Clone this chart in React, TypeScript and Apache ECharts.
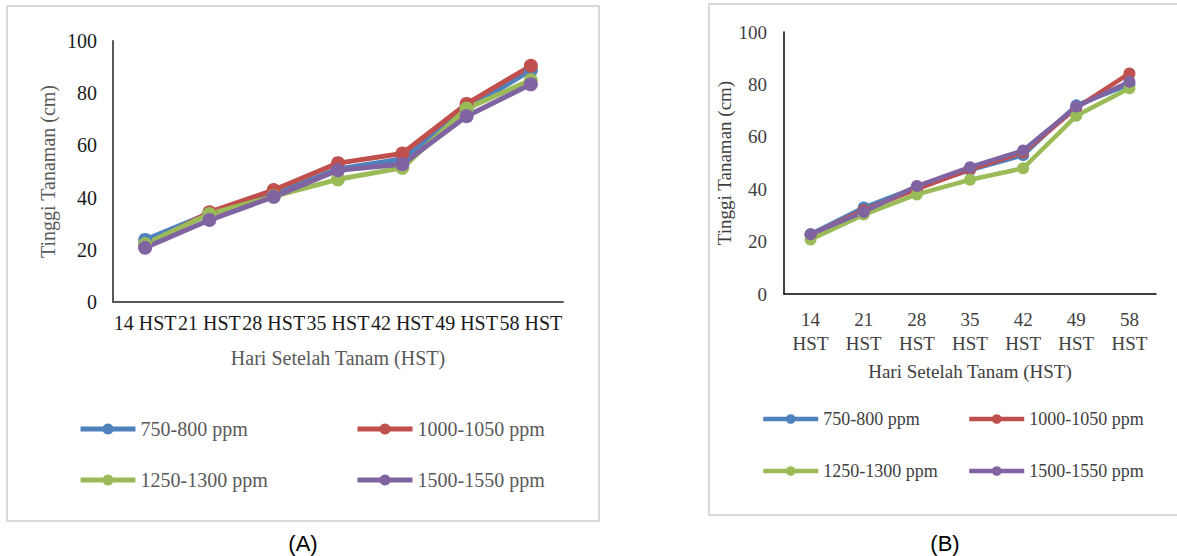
import React, { useEffect, useRef } from "react";
import * as echarts from "echarts";

const categoriesA = ["14 HST", "21 HST", "28 HST", "35 HST", "42 HST", "49 HST", "58 HST"];
const categoriesB = ["14\nHST", "21\nHST", "28\nHST", "35\nHST", "42\nHST", "49\nHST", "58\nHST"];
const seriesNames = ["750-800 ppm", "1000-1050 ppm", "1250-1300 ppm", "1500-1550 ppm"];
const colors = ["#4F81BD", "#C0504D", "#9BBB59", "#8064A2"];

const a750 = [23.8, 34, 41.2, 51, 54.8, 73.9, 88.8];
const a1000 = [21.5, 34.4, 42.9, 53.2, 56.9, 75.9, 90.5];
const a1250 = [22.2, 33.7, 40.5, 47, 51.4, 74.1, 85];
const a1500 = [20.8, 31.4, 40.3, 50.5, 52.8, 71.2, 83.4];

const b750 = [22.8, 33, 40.8, 47.3, 53, 72, 80];
const b1000 = [22.5, 32, 40, 47.6, 54, 71, 84.2];
const b1250 = [20.8, 30.3, 38, 43.6, 48, 68, 78.5];
const b1500 = [22.8, 31.3, 41.2, 48.4, 54.8, 71.5, 81];

const yTicks = [0, 20, 40, 60, 80, 100];

const dataA = [a750, a1000, a1250, a1500];
const dataB = [b750, b1000, b1250, b1500];

const FONT = "Liberation Serif";

export default function App() {
  const ref = useRef<HTMLDivElement>(null);
  useEffect(() => {
    if (!ref.current) return;
    const chart = echarts.init(ref.current, null, { renderer: "svg" });

    const series: any[] = [];
    dataA.forEach((d, i) => {
      series.push({
        name: seriesNames[i],
        type: "line",
        xAxisIndex: 0,
        yAxisIndex: 0,
        data: d,
        symbol: "circle",
        symbolSize: 14,
        color: colors[i],
        lineStyle: { width: 5, color: colors[i] },
        itemStyle: { color: colors[i] },
      });
    });
    dataB.forEach((d, i) => {
      series.push({
        name: seriesNames[i] + " ",
        type: "line",
        xAxisIndex: 1,
        yAxisIndex: 1,
        data: d,
        symbol: "circle",
        symbolSize: 12,
        color: colors[i],
        lineStyle: { width: 4.5, color: colors[i] },
        itemStyle: { color: colors[i] },
      });
    });

    const legPosA = [
      [78, 419],
      [355, 419],
      [78, 470],
      [355, 470],
    ];
    const legPosB = [
      [761, 410],
      [967, 410],
      [761, 462],
      [967, 462],
    ];
    const legends: any[] = [];
    seriesNames.forEach((n, i) => {
      legends.push({
        data: [n],
        left: legPosA[i][0],
        top: legPosA[i][1],
        itemWidth: 55,
        itemHeight: 14,
        padding: 0,
        lineStyle: { width: 5 },
        textStyle: { fontFamily: FONT, fontSize: 20, color: "#595959" },
      });
      legends.push({
        data: [n + " "],
        left: legPosB[i][0],
        top: legPosB[i][1],
        itemWidth: 55,
        itemHeight: 12,
        padding: 0,
        lineStyle: { width: 4.5 },
        textStyle: { fontFamily: FONT, fontSize: 18, color: "#404040" },
      });
    });

    const yAxisCommon = (color: string, nameColor: string, size: number, gap: number, margin: number, lineColor: string, lw: number) => ({
      type: "value",
      min: yTicks[0],
      max: yTicks[yTicks.length - 1],
      interval: 20,
      name: "Tinggi Tanaman (cm)",
      nameLocation: "middle",
      nameGap: gap,
      nameTextStyle: { fontFamily: FONT, fontSize: size, color: nameColor },
      axisLine: { show: true, lineStyle: { color: lineColor, width: lw } },
      axisTick: { show: false },
      splitLine: { show: false },
      axisLabel: { fontFamily: FONT, fontSize: size, color, margin },
    });

    const option: any = {
      animation: false,
      backgroundColor: "#ffffff",
      textStyle: { fontFamily: FONT },
      grid: [
        { left: 113, top: 41, width: 450, height: 261 },
        { left: 784, top: 32, width: 372, height: 262 },
      ],
      xAxis: [
        {
          gridIndex: 0,
          type: "category",
          data: categoriesA,
          boundaryGap: true,
          name: "Hari Setelah Tanam (HST)",
          nameLocation: "middle",
          nameGap: 46,
          nameTextStyle: { fontFamily: FONT, fontSize: 20, color: "#595959" },
          axisLine: { lineStyle: { color: "#595959", width: 2 } },
          axisTick: { show: false },
          axisLabel: { interval: 0, fontFamily: FONT, fontSize: 20, color: "#1a1a1a", margin: 11 },
        },
        {
          gridIndex: 1,
          type: "category",
          data: categoriesB,
          boundaryGap: true,
          name: "Hari Setelah Tanam (HST)",
          nameLocation: "middle",
          nameGap: 68,
          nameTextStyle: { fontFamily: FONT, fontSize: 19, color: "#404040" },
          axisLine: { lineStyle: { color: "#000000", width: 1.5 } },
          axisTick: { show: false },
          axisLabel: { interval: 0, fontFamily: FONT, fontSize: 19, color: "#404040", margin: 13, lineHeight: 24 },
        },
      ],
      yAxis: [
        { gridIndex: 0, ...yAxisCommon("#1a1a1a", "#595959", 20, 55, 16, "#595959", 2) },
        { gridIndex: 1, ...yAxisCommon("#404040", "#404040", 19, 50, 17, "#000000", 1.5) },
      ],
      legend: legends,
      series,
      graphic: [
        {
          type: "rect",
          shape: { x: 7, y: 6, width: 592, height: 515 },
          style: { fill: "none", stroke: "#d9d9d9", lineWidth: 2 },
          silent: true,
        },
        {
          type: "rect",
          shape: { x: 709, y: 4, width: 480, height: 511 },
          style: { fill: "none", stroke: "#d9d9d9", lineWidth: 2 },
          silent: true,
        },
        {
          type: "text",
          x: 303,
          y: 543,
          style: {
            text: "(A)",
            fontFamily: "Liberation Sans",
            fontSize: 22,
            fill: "#000",
            align: "center",
            verticalAlign: "middle",
          },
        },
        {
          type: "text",
          x: 945,
          y: 543,
          style: {
            text: "(B)",
            fontFamily: "Liberation Sans",
            fontSize: 22,
            fill: "#000",
            align: "center",
            verticalAlign: "middle",
          },
        },
      ],
    };
    chart.setOption(option);
    return () => chart.dispose();
  }, []);
  return (
    <div
      ref={ref}
      style={{ position: "absolute", left: 0, top: 0, width: 1177, height: 556 }}
    />
  );
}
